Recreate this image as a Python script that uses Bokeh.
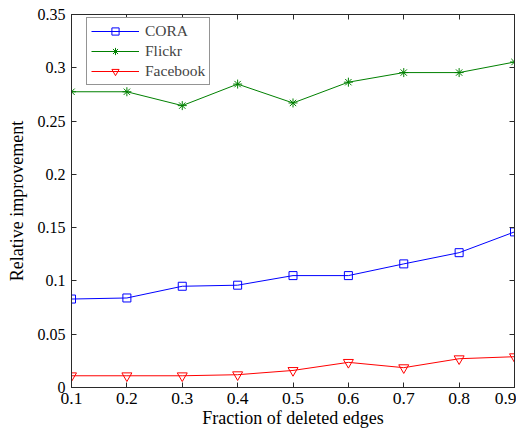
from bokeh.plotting import figure
from bokeh.models import LinearAxis, Range1d, FixedTicker, Legend, LegendItem
from bokeh.embed import file_html
from bokeh.resources import INLINE

fraction = [0.1, 0.2, 0.3, 0.4, 0.5, 0.6, 0.7, 0.8, 0.9]
cora = [0.083, 0.084, 0.095, 0.096, 0.105, 0.105, 0.116, 0.1265, 0.146]
flickr = [0.2775, 0.2775, 0.2645, 0.2847, 0.267, 0.2865, 0.2955, 0.2955, 0.3054]
facebook = [0.011, 0.011, 0.011, 0.012, 0.016, 0.0236, 0.0186, 0.027, 0.0289]
x_ticks = [0.1, 0.2, 0.3, 0.4, 0.5, 0.6, 0.7, 0.8, 0.9]
y_ticks = [0, 0.05, 0.1, 0.15, 0.2, 0.25, 0.3, 0.35]
y_labels = {0: "0", 0.05: "0.05", 0.1: "0.1", 0.15: "0.15", 0.2: "0.2", 0.25: "0.25", 0.3: "0.3", 0.35: "0.35"}
x_labels = {v: str(v) for v in x_ticks}

FONT = "'Liberation Serif', 'Times New Roman', serif"
FRAME_H = 376

p = figure(width=516, height=430, output_backend="svg", toolbar_location=None,
           x_range=Range1d(0.1, 0.9), y_range=Range1d(0, 0.35),
           min_border_left=71, min_border_right=2, min_border_top=14, min_border_bottom=40)
p.grid.visible = False
p.outline_line_color = "#2a2a2a"
p.outline_line_width = 1

def style_axis(ax, ticks, labels=None, show_labels=True, tick_size="16px"):
    ax.ticker = FixedTicker(ticks=ticks)
    ax.major_tick_in = 5
    ax.major_tick_out = 0
    ax.minor_tick_in = 0
    ax.minor_tick_out = 0
    ax.axis_line_color = "#2a2a2a"
    ax.major_tick_line_color = "#2a2a2a"
    ax.major_label_text_font = FONT
    ax.major_label_text_font_size = tick_size
    ax.major_label_text_color = "black"
    ax.axis_label_text_font = FONT
    ax.axis_label_text_font_size = "18px"
    ax.axis_label_text_font_style = "normal"
    ax.axis_label_text_color = "black"
    if labels is not None:
        ax.major_label_overrides = labels
    if not show_labels:
        ax.major_label_text_font_size = "0px"
        ax.major_label_standoff = 0

style_axis(p.xaxis[0], x_ticks, x_labels, tick_size="17.5px")
style_axis(p.yaxis[0], y_ticks, y_labels, tick_size="16px")
p.xaxis[0].axis_label = "Fraction of deleted edges"
p.yaxis[0].axis_label = "Relative improvement"
p.xaxis[0].major_label_standoff = 5
p.xaxis[0].axis_label_standoff = 1
p.yaxis[0].major_label_standoff = 6
p.yaxis[0].axis_label_standoff = 8

top = LinearAxis()
style_axis(top, x_ticks, show_labels=False)
p.add_layout(top, "above")
right = LinearAxis()
style_axis(right, y_ticks, show_labels=False)
p.add_layout(right, "right")

l1 = p.line(fraction, cora, line_color="#0000ff", line_width=1)
m1 = p.scatter(fraction, cora, marker="square", size=8, line_color="#0000ff", fill_color=None, line_width=1)
l2 = p.line(fraction, flickr, line_color="#008000", line_width=1)
m2 = p.scatter(fraction, flickr, marker="asterisk", size=9, line_color="#008000", line_width=1)
l3 = p.line(fraction, facebook, line_color="#ff0000", line_width=1)
m3 = p.scatter(fraction, facebook, marker="inverted_triangle", size=10, line_color="#ff0000", fill_color=None, line_width=1)

PAD, LH, SP = 4, 18, 2
LEG_H = 2 * PAD + 3 * LH + 2 * SP
legend = Legend(items=[LegendItem(label="CORA", renderers=[l1, m1]),
                       LegendItem(label="Flickr", renderers=[l2, m2]),
                       LegendItem(label="Facebook", renderers=[l3, m3])],
                location=(15, FRAME_H - 8 - LEG_H))
legend.label_text_font = FONT
legend.label_text_font_size = "15.5px"
legend.glyph_width = 48
legend.glyph_height = LH
legend.label_height = LH
legend.spacing = SP
legend.padding = PAD
legend.margin = 0
legend.label_standoff = 6
legend.border_line_color = "#2a2a2a"
legend.border_line_width = 1
legend.background_fill_alpha = 1
p.add_layout(legend)

open("out.html", "w").write(file_html(p, INLINE))
